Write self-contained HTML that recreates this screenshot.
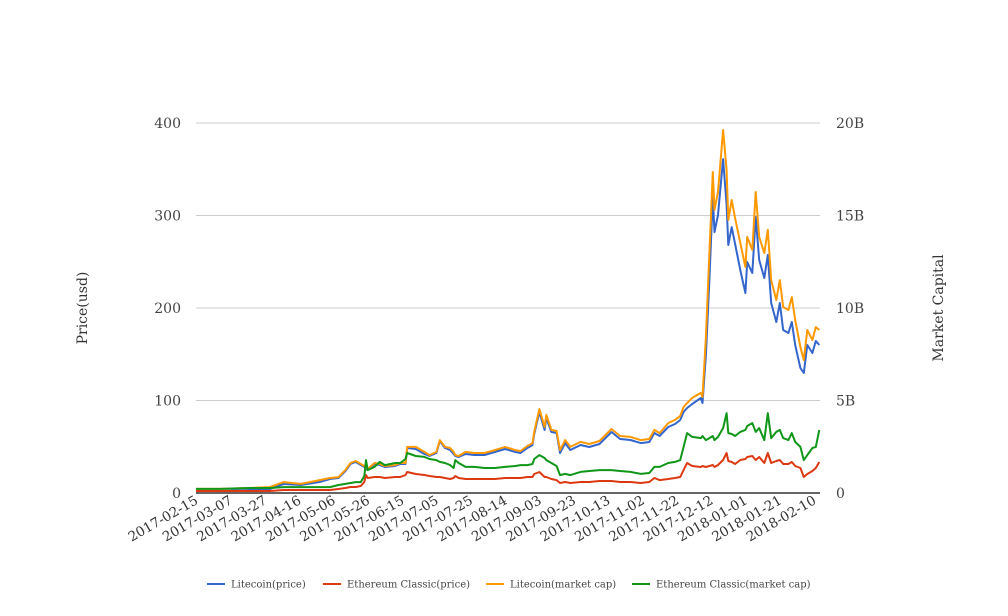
<!DOCTYPE html>
<html><head><meta charset="utf-8">
<style>
html,body{margin:0;padding:0;background:#fff;}
svg{display:block;font-family:"DejaVu Serif","Liberation Serif",serif;}
</style></head>
<body>
<svg id="chart" width="1008" height="616" viewBox="0 0 1008 616" xmlns="http://www.w3.org/2000/svg">
<g id="grid"></g>
<g id="yl"></g>
<g id="yr"></g>
<g id="xa"></g>
<g id="series"></g>
<text transform="translate(87,308) rotate(-90)" text-anchor="middle" font-size="14" fill="#333">Price(usd)</text>
<text transform="translate(943,308) rotate(-90)" text-anchor="middle" font-size="14" fill="#333">Market Capital</text>
<g id="legend"></g>
</svg>
<script>
// day offsets from 2017-02-15
const days = [0,14,31,43,51,61,72,78,83,87,90,93,96,98,99,100,104,107,110,116,
119,122,123,128,133,136,140,142,145,148,150,151,153,157,162,168,174,180,186,189,
193,196,197,200,203,204,207,210,212,215,218,224,229,235,242,247,253,259,264,267,
270,275,279,282,284,286,289,294,295,297,299,301,302,304,307,309,310,312,314,317,
320,321,324,326,328,331,333,335,338,340,342,345,347,349,352,354,356,359,361,363];
const ltcPrice = [2.2,2.2,3.2,4.3,9.7,8.6,11.9,15.1,16.2,23.8,31.4,33.5,30.3,28.1,25.9,24.9,31.4,30.3,28.1,29.2,
31.4,31.4,48.6,47.6,42.2,40.0,43.2,56.2,48.6,46.5,42.2,40.0,38.9,42.2,41.1,41.1,44.3,47.6,44.3,43.2,
48.6,51.9,63.8,87.6,68.1,81.1,65.9,64.9,43.2,54.0,46.5,51.9,49.7,53.0,65.9,58.4,57.3,54.0,55.1,64.9,
61.6,71.3,74.6,78.9,87.6,91.9,96.2,102.7,97.3,149.2,230.4,320,282.1,300.5,361,311.3,268.1,287.5,269.2,241,
216.2,249.7,237.8,298.4,251.9,232.4,257.3,205.4,184.9,205.4,176.2,173,184.9,160,135.1,129.7,160,151.3,164.3,160];
const etcPrice = [2.2,2.2,2.2,2.2,3.2,3.2,3.2,3.2,4.3,5.4,6.5,6.5,7.6,11.9,19.5,16.2,17.3,17.3,16.2,17.3,
17.3,19.5,22.7,20.5,19.5,18.4,17.3,17.3,16.2,15.1,16.2,18.4,16.2,15.1,15.1,15.1,15.1,16.2,16.2,16.2,
17.3,17.3,20.5,22.7,17.3,17.3,15.1,14.0,10.8,11.9,10.8,11.9,11.9,13.0,13.0,11.9,11.9,10.8,11.9,16.2,
14.0,15.1,16.2,17.3,24.9,32.4,29.2,28.1,29.2,28.1,29.2,30.3,28.1,30.3,35.7,43.2,34.6,33.5,31.4,35.7,
36.8,38.9,40.0,35.7,38.9,32.4,43.2,32.4,34.6,35.7,31.4,31.4,33.5,29.2,27.0,17.3,20.5,23.8,27.0,33.5];
const ltcCap = [0.22,0.22,0.27,0.32,0.59,0.49,0.70,0.81,0.86,1.24,1.62,1.73,1.57,1.46,1.35,1.30,1.62,1.57,1.46,1.51,
1.62,1.62,2.49,2.49,2.22,2.05,2.22,2.86,2.49,2.43,2.22,2.05,2.0,2.22,2.16,2.16,2.32,2.49,2.32,2.27,
2.54,2.70,3.30,4.54,3.57,4.22,3.41,3.35,2.32,2.86,2.49,2.76,2.65,2.81,3.46,3.08,3.03,2.86,2.92,3.41,
3.24,3.78,3.95,4.16,4.65,4.86,5.14,5.41,5.19,8.43,12.97,17.35,15.3,16.27,19.62,17.46,14.76,15.84,14.86,13.51,
12.22,13.84,13.14,16.27,13.84,12.97,14.22,11.51,10.43,11.51,10.05,9.89,10.59,9.35,7.89,7.19,8.81,8.27,8.97,8.81];
const etcCap = [0.22,0.22,0.27,0.27,0.32,0.32,0.32,0.32,0.43,0.49,0.54,0.59,0.59,0.92,1.78,1.24,1.41,1.68,1.51,1.62,
1.62,1.84,2.16,2.0,1.95,1.84,1.78,1.68,1.62,1.51,1.35,1.78,1.62,1.41,1.41,1.35,1.35,1.41,1.46,1.51,
1.51,1.57,1.84,2.05,1.89,1.78,1.62,1.46,0.97,1.03,0.97,1.14,1.19,1.24,1.24,1.19,1.14,1.03,1.08,1.41,
1.41,1.62,1.68,1.78,2.49,3.24,3.03,2.97,3.08,2.86,2.97,3.08,2.86,3.03,3.51,4.32,3.24,3.19,3.08,3.30,
3.41,3.62,3.78,3.30,3.51,2.86,4.32,2.97,3.30,3.41,2.97,2.86,3.24,2.76,2.49,1.78,2.05,2.43,2.49,3.41];
const xTickLabels = ["2017-02-15","2017-03-07","2017-03-27","2017-04-16","2017-05-06","2017-05-26","2017-06-15","2017-07-05","2017-07-25","2017-08-14","2017-09-03","2017-09-23","2017-10-13","2017-11-02","2017-11-22","2017-12-12","2018-01-01","2018-01-21","2018-02-10"];
const leftTicks = [0,100,200,300,400];
const rightTicks = [0,5,10,15,20];
const rightTickLabels = ["0","5B","10B","15B","20B"];

const NS="http://www.w3.org/2000/svg";
const X0=196, PXDAY=1.717, Y0=493, YTOP=123;
const xs = d => X0 + d*PXDAY;
const yL = v => Y0 - (v/400)*(Y0-YTOP);
const yR = v => Y0 - (v/20)*(Y0-YTOP);
function mk(tag, attrs, parent){const e=document.createElementNS(NS,tag);for(const k in attrs)e.setAttribute(k,attrs[k]);parent.appendChild(e);return e;}

const grid=document.getElementById('grid'), yl=document.getElementById('yl'), yr=document.getElementById('yr'), xa=document.getElementById('xa');
leftTicks.forEach((t,i)=>{
  const y=yL(t);
  if(t>0){const g=mk('line',{x1:196,x2:820,y1:y,y2:y,stroke:'#ccc','stroke-width':1},grid);
  
  }
  const tx=mk('text',{x:181,y:y+5,'text-anchor':'end','font-size':14,fill:'#444'},yl);
  tx.textContent=t;
  
  
});
rightTicks.forEach((t,i)=>{
  const tx=mk('text',{x:836,y:yR(t)+5,'text-anchor':'start','font-size':14,fill:'#444'},yr);
  tx.textContent=rightTickLabels[i];
  
  
});
const ax=mk('line',{x1:196,x2:820,y1:Y0,y2:Y0,stroke:'#333','stroke-width':1.5},xa);


xTickLabels.forEach((lab,i)=>{
  const x=xs(i*20)+3;
  const tx=mk('text',{transform:`translate(${x},${503}) rotate(-30)`,'text-anchor':'end','font-size':13.5,fill:'#333'},xa);
  tx.textContent=lab;
  
  
});

const series=[
  {name:'Litecoin(price)',vals:ltcPrice,scale:yL,color:'#3366cc',id:'litecoin-price-line'},
  {name:'Ethereum Classic(price)',vals:etcPrice,scale:yL,color:'#dc3912',id:'etc-price-line'},
  {name:'Litecoin(market cap)',vals:ltcCap,scale:yR,color:'#ff9900',id:'litecoin-market-cap-line'},
  {name:'Ethereum Classic(market cap)',vals:etcCap,scale:yR,color:'#109618',id:'etc-market-cap-line'}
];
const sg=document.getElementById('series');
series.forEach(s=>{
  const d=s.vals.map((v,i)=>(i?'L':'M')+xs(days[i]).toFixed(1)+','+s.scale(v).toFixed(1)).join('');
  const p=mk('path',{d:d,fill:'none',stroke:s.color,'stroke-width':2,'stroke-linejoin':'round'},sg);
  
  
});
const lg=document.getElementById('legend');
const legX=[207,323,486,632];
series.forEach((s,i)=>{
  const g=mk('g',{},lg);
  
  
  mk('line',{x1:legX[i],x2:legX[i]+18,y1:584,y2:584,stroke:s.color,'stroke-width':2},g);
  const t=mk('text',{x:legX[i]+24,y:587.5,'font-size':10,fill:'#444'},g);
  t.textContent=s.name;
});
</script>
</body></html>
